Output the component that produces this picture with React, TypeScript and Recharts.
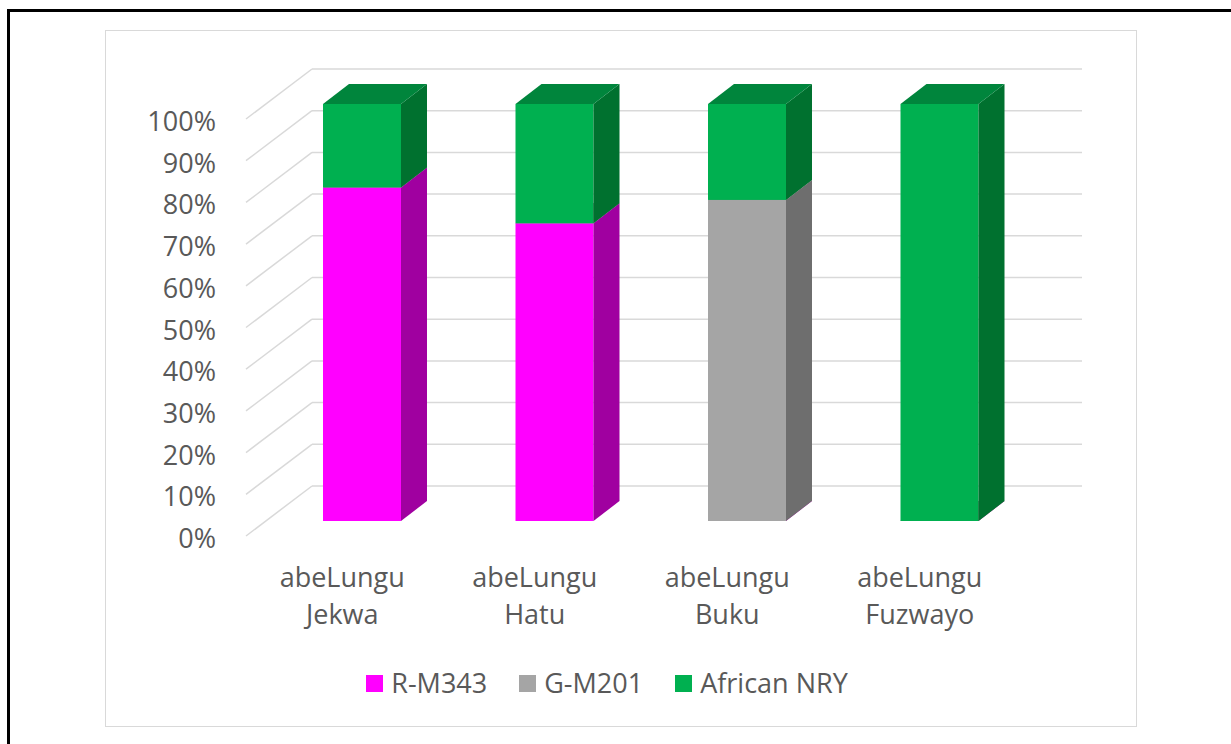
import React from 'react';
import { BarChart, Bar, XAxis, YAxis, CartesianGrid, Legend } from 'recharts';

const categories = ['abeLungu Jekwa', 'abeLungu Hatu', 'abeLungu Buku', 'abeLungu Fuzwayo'];
const rM343 = [80, 71.4, 0, 0];
const gM201 = [0, 0, 77, 0];
const africanNRY = [20, 28.6, 23, 100];
const yTicks = [0, 10, 20, 30, 40, 50, 60, 70, 80, 90, 100];

const seriesNames = ['R-M343', 'G-M201', 'African NRY'];

const data = categories.map((c, i) => ({
  name: c,
  r: rM343[i],
  g: gM201[i],
  a: africanNRY[i],
}));

// 3D projection offsets (style constants)
const DEPTH_DX = 26;
const DEPTH_DY = 20;
const BACK_DX = 46;
const BACK_DY = 35;
const FRONT_DX = 20;
const FRONT_DY = 15;

const TEXT = '#595959';
const FONT = "'Open Sans', sans-serif";
const GRID = '#d9d9d9';

const makeShape = (front: string, top: string, side: string) => (props: any) => {
  const { x, y, width, height } = props;
  if (x == null || y == null || !width) return <g />;
  const h = Math.max(0, height || 0);
  const r = x + width;
  return (
    <g>
      <rect x={x} y={y} width={width} height={h} fill={front} />
      <polygon
        points={`${r},${y + h} ${r + DEPTH_DX},${y + h - DEPTH_DY} ${r + DEPTH_DX},${y - DEPTH_DY} ${r},${y}`}
        fill={side}
      />
      <polygon
        points={`${x},${y} ${r},${y} ${r + DEPTH_DX},${y - DEPTH_DY} ${x + DEPTH_DX},${y - DEPTH_DY}`}
        fill={top}
      />
    </g>
  );
};

const YTick = (p: any) => {
  const { x, y, payload } = p;
  return (
    <text x={x} y={y + 27} textAnchor="end" fill={TEXT} fontSize={27} fontFamily={FONT}>
      {`${payload.value}%`}
    </text>
  );
};

const XTick = (p: any) => {
  const { x, y, payload } = p;
  const parts = String(payload.value).split(' ');
  const cx = x - FRONT_DX;
  return (
    <g>
      <text x={cx} y={y + 66} textAnchor="middle" fill={TEXT} fontSize={27} fontFamily={FONT}>
        {parts[0]}
      </text>
      <text x={cx} y={y + 103} textAnchor="middle" fill={TEXT} fontSize={27} fontFamily={FONT}>
        {parts.slice(1).join(' ')}
      </text>
    </g>
  );
};

const gridLine = (p: any) => {
  const { x1, y1, x2, index } = p;
  return (
    <g key={`gl-${index}-${y1}`}>
      <line x1={x1 + BACK_DX} y1={y1 - BACK_DY} x2={x2 + BACK_DX} y2={y1 - BACK_DY} stroke={GRID} strokeWidth={1.5} />
      <line x1={x1 + BACK_DX} y1={y1 - BACK_DY} x2={x1 - FRONT_DX} y2={y1 + FRONT_DY} stroke={GRID} strokeWidth={1.5} />
    </g>
  );
};

const LegendContent = (p: any) => {
  const payload = [...(p.payload || [])].sort(
    (a: any, b: any) => seriesNames.indexOf(a.value) - seriesNames.indexOf(b.value)
  );
  return (
    <div style={{ display: 'flex', justifyContent: 'center', alignItems: 'center', gap: 32 }}>
      {payload.map((e: any) => (
        <div key={e.value} style={{ display: 'flex', alignItems: 'center' }}>
          <div style={{ width: 17, height: 17, background: e.color, marginRight: 8 }} />
          <span style={{ fontFamily: FONT, fontSize: 27, color: TEXT, lineHeight: '30px' }}>{e.value}</span>
        </div>
      ))}
    </div>
  );
};

export default function App() {
  return (
    <div style={{ position: 'absolute', left: 0, top: 0, width: 1231, height: 744, overflow: 'hidden', background: '#fff' }}>
      <div
        style={{
          position: 'absolute',
          left: 7,
          top: 9,
          width: 1400,
          height: 900,
          borderLeft: '3px solid #000',
          borderTop: '3px solid #000',
        }}
      />
      <div
        style={{
          position: 'absolute',
          left: 105,
          top: 30,
          width: 1030,
          height: 695,
          border: `1.5px solid ${GRID}`,
        }}
      />
      <div style={{ position: 'absolute', left: 0, top: 0 }}>
        <BarChart
          width={1231}
          height={744}
          data={data}
          margin={{ top: 104, right: 195, bottom: 143, left: 206 }}
        >
          <CartesianGrid vertical={false} horizontal={gridLine} />
          <XAxis
            dataKey="name"
            height={80}
            axisLine={false}
            tickLine={false}
            tickSize={0}
            tickMargin={0}
            interval={0}
            tick={<XTick />}
          />
          <YAxis
            type="number"
            domain={[0, 100]}
            ticks={yTicks}
            width={60}
            axisLine={false}
            tickLine={false}
            tickSize={0}
            tickMargin={50}
            interval={0}
            tick={<YTick />}
          />
          <Legend
            verticalAlign="middle"
            align="center"
            content={<LegendContent />}
            wrapperStyle={{ position: 'absolute', top: 668, left: 0, width: 1214, height: 30 }}
          />
          <Bar dataKey="r" name={seriesNames[0]} stackId="s" fill="#FF00FF" barSize={78} isAnimationActive={false}
            shape={makeShape('#FF00FF', '#C800C8', '#A000A0')} />
          <Bar dataKey="g" name={seriesNames[1]} stackId="s" fill="#A5A5A5" barSize={78} isAnimationActive={false}
            shape={makeShape('#A5A5A5', '#8A8A8A', '#6E6E6E')} />
          <Bar dataKey="a" name={seriesNames[2]} stackId="s" fill="#00B050" barSize={78} isAnimationActive={false}
            shape={makeShape('#00B050', '#00853C', '#00712F')} />
        </BarChart>
      </div>
    </div>
  );
}
